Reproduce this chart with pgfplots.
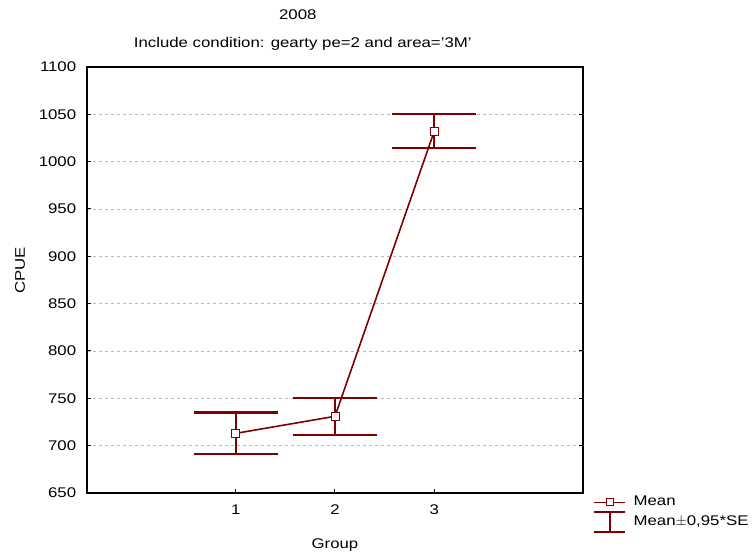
\documentclass[border=0pt]{standalone}
\usepackage{pgfplots}
\pgfplotsset{compat=1.18}
\usepackage{fontspec}
\setmainfont{Liberation Sans}[FakeStretch=1.2]
\definecolor{darkred}{RGB}{128,0,0}
\newcommand{\lbl}{\fontsize{14}{16}\selectfont}
\begin{document}
\lbl
\begin{tikzpicture}
\path[use as bounding box] (-87pt,-63pt) rectangle (665pt,493pt);
\begin{axis}[
    at={(0,0)}, anchor=south west,
    scale only axis,
    width=496pt, height=426pt,
    xmin=-0.5, xmax=4.5,
    ymin=650, ymax=1100,
    xtick={1,2,3},
    ytick={650,700,...,1100},
    tick align=inside,
    major tick length=4pt,
    xtick pos=bottom,
    ymajorgrids,
    major grid style={gray!55, dashed, line width=0.5pt},
    axis line style={line width=1.2pt},
    tick style={black, line width=1pt},
    /pgf/number format/assume math mode=true,
    /pgf/number format/1000 sep={},
    ticklabel style={font=\lbl},
    xticklabel style={yshift=-7pt},
    yticklabel style={xshift=-6pt},
    xlabel={Group},
    ylabel={CPUE},
    xlabel style={at={(axis description cs:0.5,-0.122)}, anchor=center},
    ylabel style={at={(axis description cs:-0.135,0.523)}, anchor=center},
    legend style={at={(1.02,0.002)}, anchor=north west, draw=none, fill=none,
        font=\lbl, row sep=1pt, inner xsep=0pt,
        nodes={inner xsep=3pt},
        /tikz/every odd column/.style={column sep=5pt}},
    legend cell align=left,
    clip=false,
]
% mean +- 0.95*SE: vertical bars
\addplot[forget plot, darkred, line width=1.6pt, mark=square*,
    mark options={fill=white, draw=darkred, line width=0.8pt}, mark size=4pt,
    error bars/.cd, y dir=both, y explicit, error mark=none,
    error bar style={line width=1.8pt, darkred}]
coordinates {
    (1,713) +- (0,22)
    (2,731) +- (0,19.5)
    (3,1032) +- (0,18)
};
% caps of the bars
\addplot[forget plot, only marks, mark=-, mark size=42pt,
    mark options={line width=2.1pt, darkred}]
coordinates {
    (1,735) (1,691)
    (2,750.5) (2,711.5)
    (3,1050) (3,1014)
};
% redraw the means over the bars
\addplot[forget plot, only marks, mark=square*,
    mark options={fill=white, draw=darkred, line width=0.8pt}, mark size=4pt]
coordinates {(1,713) (2,731) (3,1032)};
\addlegendimage{legend image code/.code={
    \draw[darkred, line width=1.3pt] (0pt,0pt) -- (31pt,0pt);
    \draw[darkred, fill=white, line width=0.8pt] (12.5pt,-3.5pt) rectangle (19.5pt,3.5pt);
}}
\addlegendentry{Mean}
\addlegendimage{legend image code/.code={
    \draw[darkred, line width=1.5pt] (0pt,-10pt) -- (31pt,-10pt);
    \draw[darkred, line width=1.5pt] (0pt,10pt) -- (31pt,10pt);
    \draw[darkred, line width=1.5pt] (16pt,-10pt) -- (16pt,10pt);
}}
\addlegendentry{Mean$\pm$0,95*SE}
\node[font=\lbl] at (axis description cs:0.425,1.122) {2008};
\node[font=\lbl] at (axis description cs:0.435,1.054) {Include condition: gearty pe=2 and area='3M'};
\end{axis}
\end{tikzpicture}
\end{document}
